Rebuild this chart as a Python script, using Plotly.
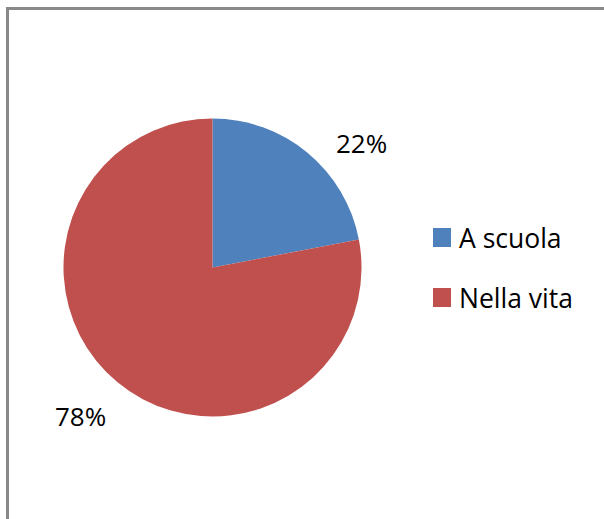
import plotly.graph_objects as go

W, H = 604, 519

categories = ["A scuola", "Nella vita"]
values = [22, 78]
colors = ["#4F81BD", "#C0504D"]

# label anchor positions (pixels) for the percentage texts
label_px = [(362, 143), (80, 416)]


def px(x, y):
    return x / W, 1 - y / H


cx, cy, r = 212.5, 267.5, 149
x0, y1 = px(cx - r, cy - r)
x1, y0 = px(cx + r, cy + r)

fig = go.Figure()
fig.add_trace(go.Pie(
    labels=categories,
    values=values,
    marker=dict(colors=colors, line=dict(width=0)),
    sort=False,
    direction="clockwise",
    rotation=0,
    textinfo="none",
    hoverinfo="label+percent",
    showlegend=False,
    domain=dict(x=[x0, x1], y=[y0, y1]),
))

total = sum(values)
annotations = []
shapes = []
for (lx, ly), v in zip(label_px, values):
    ax, ay = px(lx, ly)
    annotations.append(dict(
        x=ax, y=ay, xref="paper", yref="paper", showarrow=False,
        text=f"{round(100 * v / total)}%", xanchor="center", yanchor="middle",
        font=dict(family="Open Sans", size=26, color="#000000"),
    ))

# legend
leg_y = [237.5, 297.5]
for name, col, ly in zip(categories, colors, leg_y):
    sx0, sy1 = px(433, ly - 9.5)
    sx1, sy0 = px(451, ly + 9.5)
    shapes.append(dict(type="rect", xref="paper", yref="paper",
                       x0=sx0, x1=sx1, y0=sy0, y1=sy1,
                       fillcolor=col, line=dict(width=0)))
    tx, ty = px(457, ly)
    annotations.append(dict(
        x=tx, y=ty, xref="paper", yref="paper", showarrow=False,
        text=name, xanchor="left", yanchor="middle",
        font=dict(family="Open Sans", size=26.5, color="#000000"),
    ))

# chart border (only top and left edges visible in the frame)
bx, by = px(7.5, 8.5)
shapes.append(dict(type="line", xref="paper", yref="paper",
                   x0=bx, x1=bx, y0=by, y1=0,
                   line=dict(color="#898989", width=3)))
shapes.append(dict(type="line", xref="paper", yref="paper",
                   x0=bx - 1.5 / W, x1=1, y0=by, y1=by,
                   line=dict(color="#898989", width=3)))

fig.update_layout(
    width=W, height=H,
    margin=dict(l=0, r=0, t=0, b=0),
    paper_bgcolor="white", plot_bgcolor="white",
    annotations=annotations, shapes=shapes,
)

fig.write_html(
    "out.html",
    config={"displayModeBar": False},
    post_script="document.body.style.margin='0';document.body.style.overflow='hidden';",
)
